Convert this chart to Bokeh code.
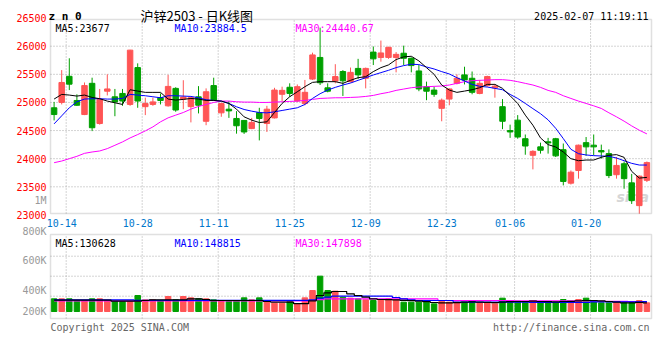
from bokeh.plotting import figure
from bokeh.models import Range1d, Label, ColumnDataSource, BoxAnnotation
from bokeh.core.properties import value
from bokeh.embed import file_html
from bokeh.resources import INLINE

# ---------------- data ----------------
dates = ["10-11",
         "10-14", "10-15", "10-16", "10-17", "10-18",
         "10-21", "10-22", "10-23", "10-24", "10-25",
         "10-28", "10-29", "10-30", "10-31", "11-01",
         "11-04", "11-05", "11-06", "11-07", "11-08",
         "11-11", "11-12", "11-13", "11-14", "11-15",
         "11-18", "11-19", "11-20", "11-21", "11-22",
         "11-25", "11-26", "11-27", "11-28", "11-29",
         "12-02", "12-03", "12-04", "12-05", "12-06",
         "12-09", "12-10", "12-11", "12-12", "12-13",
         "12-16", "12-17", "12-18", "12-19", "12-20",
         "12-23", "12-24", "12-25", "12-26", "12-27",
         "12-30", "12-31", "01-02", "01-03",
         "01-06", "01-07", "01-08", "01-09", "01-10",
         "01-13", "01-14", "01-15", "01-16", "01-17",
         "01-20", "01-21", "01-22", "01-23", "01-24",
         "01-27", "02-05", "02-06", "02-07"]

tick_labels = ["10-14", "10-28", "11-11", "11-25", "12-09", "12-23", "01-06", "01-20"]
price_ticks = [23000, 23500, 24000, 24500, 25000, 25500, 26000, 26500]
price_grid = [23500, 24000, 24500, 25000, 25500, 26000]

open_ = [24905, 25000, 25465, 25035, 24785, 25340, 24625, 25200, 25100, 25160,
         24965, 25620, 24925, 24965, 25085, 24940, 25250, 25060, 24925, 25100,
         24665, 25300, 24815, 24880, 24715, 24680, 24535, 24820, 24625, 24725,
         25145, 25270, 25025, 24980, 25415, 25800, 25260, 25380, 25550, 25370,
         25605, 25430, 25895, 25800, 25800, 25800, 25875, 25785, 25560, 25280,
         25220, 24895, 25060, 25340, 25490, 25430, 25160, 25300, 25260, 24925,
         24500, 24685, 24355, 24060, 24210, 24300, 24355, 24160, 23565, 23790,
         24285, 24240, 24145, 24090, 23715, 23910, 23570, 23165, 23615]
high = [25010, 25575, 25785, 25145, 25355, 25440, 25240, 25500, 25240, 25240,
        25935, 25695, 25085, 25085, 25160, 25490, 25270, 25395, 25095, 25290,
        25250, 25440, 24995, 25025, 24845, 24685, 24725, 24905, 24940, 25260,
        25280, 25340, 25320, 25400, 25885, 26330, 25340, 25680, 25575, 25620,
        25775, 25620, 25995, 26100, 25990, 25895, 26010, 25800, 25665, 25370,
        25280, 25070, 25250, 25500, 25635, 25550, 25400, 25475, 25320, 25060,
        24605, 24775, 24430, 24150, 24285, 24370, 24370, 24270, 23790, 24250,
        24385, 24430, 24250, 24165, 24030, 23950, 23730, 23700, 23950]
low = [24680, 24965, 25220, 24940, 24775, 24490, 24605, 25125, 24755, 24940,
       24940, 24905, 24775, 24940, 24965, 24925, 24835, 24880, 24645, 24805,
       24595, 25025, 24745, 24725, 24445, 24440, 24525, 24325, 24475, 24715,
       25025, 25100, 25010, 24950, 25400, 25310, 25180, 25340, 25115, 25355,
       25415, 25250, 25665, 25725, 25775, 25535, 25665, 25535, 25200, 25040,
       25100, 24665, 24950, 25320, 25320, 25145, 25145, 25280, 25085, 24525,
       24370, 24355, 24070, 23810, 24090, 24090, 24030, 23525, 23540, 23645,
       24050, 24060, 24000, 23655, 23645, 23465, 23195, 23020, 23585]
close = [24785, 25355, 25325, 24950, 25300, 24550, 25055, 25240, 25010, 25025,
         25930, 25025, 24980, 25010, 25035, 25285, 24865, 25095, 25085, 24950,
         25190, 25040, 24980, 24850, 24585, 24475, 24645, 24715, 24880, 25220,
         25215, 25160, 25280, 25180, 25845, 25350, 25200, 25460, 25385, 25535,
         25490, 25605, 25775, 25880, 25980, 25855, 25785, 25655, 25240, 25200,
         25145, 25040, 25240, 25430, 25400, 25180, 25340, 25460, 25290, 24665,
         24475, 24385, 24225, 24130, 24150, 24280, 24050, 23595, 23760, 24240,
         24210, 24210, 24120, 23700, 23880, 23645, 23255, 23690, 23930]

ma5 = [25060, 25143, 25131, 25113, 25131, 25089, 25066, 25024, 24994, 24964,
       25226, 25202, 25179, 25179, 25179, 25060, 25042, 25054, 25071, 25060,
       25036, 25036, 25024, 24982, 24881, 24744, 24685, 24643, 24655, 24821,
       24982, 25101, 25190, 25280, 25357, 25369, 25369, 25369, 25339, 25393,
       25440, 25458, 25548, 25619, 25667, 25762, 25810, 25821, 25738, 25619,
       25500, 25310, 25220, 25179, 25202, 25226, 25262, 25321, 25321, 25250,
       25119, 24982, 24774, 24595, 24369, 24250, 24208, 24119, 24000, 23964,
       23976, 23976, 24024, 24060, 24072, 24024, 23774, 23655, 23667]
ma10 = [24619, 24762, 24905, 25012, 25060, 25066, 25066, 25060, 25060, 25071,
        25143, 25131, 25119, 25101, 25083, 25119, 25119, 25113, 25107, 25083,
        25048, 25036, 25024, 24982, 24923, 24875, 24845, 24821, 24815, 24833,
        24857, 24881, 24905, 24964, 25071, 25155, 25220, 25268, 25310, 25345,
        25393, 25440, 25488, 25530, 25571, 25619, 25655, 25679, 25673, 25631,
        25595, 25548, 25506, 25440, 25381, 25321, 25286, 25274, 25250, 25226,
        25143, 25071, 24982, 24890, 24800, 24690, 24540, 24357, 24167, 24089,
        24066, 24054, 24048, 24042, 24012, 23964, 23917, 23887, 23887]
ma30 = [23929, 23958, 24000, 24042, 24095, 24119, 24137, 24179, 24238, 24298,
        24369, 24429, 24494, 24565, 24655, 24726, 24774, 24821, 24881, 24929,
        24964, 25000, 25024, 25024, 25012, 25006, 25006, 25000, 25000, 25006,
        25012, 25018, 25024, 25036, 25054, 25071, 25077, 25083, 25083, 25089,
        25095, 25107, 25125, 25155, 25179, 25214, 25238, 25262, 25274, 25280,
        25286, 25292, 25310, 25339, 25369, 25387, 25393, 25399, 25405, 25405,
        25393, 25369, 25339, 25310, 25268, 25214, 25179, 25119, 25071, 25024,
        24982, 24940, 24893, 24816, 24744, 24667, 24583, 24506, 24441]

volume = [190000, 190000, 190000, 165000, 165000, 190000, 190000, 165000, 155000, 150000,
          155000, 240000, 175000, 175000, 165000, 225000, 175000, 225000, 205000, 190000,
          190000, 175000, 165000, 165000, 165000, 205000, 175000, 205000, 155000, 125000,
          125000, 150000, 115000, 205000, 315000, 530000, 315000, 305000, 215000, 200000,
          190000, 175000, 165000, 180000, 190000, 175000, 140000, 140000, 140000, 140000,
          115000, 155000, 140000, 140000, 140000, 155000, 130000, 130000, 115000, 200000,
          155000, 155000, 140000, 165000, 140000, 140000, 140000, 180000, 155000, 180000,
          200000, 155000, 130000, 130000, 130000, 130000, 130000, 165000, 130000]
vol_ma5 = [170000, 170000, 170000, 170000, 170000, 170000, 170000, 170000, 155000, 155000,
           155000, 155000, 165000, 175000, 175000, 175000, 175000, 175000, 190000, 190000,
           180000, 165000, 165000, 165000, 165000, 165000, 165000, 165000, 150000, 140000,
           140000, 140000, 118000, 118000, 160000, 240000, 280000, 300000, 300000, 265000,
           240000, 215000, 190000, 180000, 178000, 175000, 168000, 163000, 155000, 148000,
           135000, 130000, 128000, 132000, 140000, 143000, 140000, 138000, 132000, 140000,
           148000, 150000, 150000, 155000, 150000, 148000, 145000, 150000, 152000, 158000,
           165000, 165000, 160000, 150000, 140000, 130000, 130000, 137000, 130628]
vol_ma10 = [175000, 175000, 175000, 175000, 175000, 175000, 175000, 175000, 175000, 175000,
            175000, 168000, 168000, 168000, 168000, 168000, 168000, 168000, 168000, 168000,
            168000, 168000, 168000, 168000, 168000, 168000, 168000, 168000, 168000, 168000,
            168000, 168000, 168000, 168000, 175000, 200000, 215000, 230000, 230000, 230000,
            230000, 230000, 230000, 230000, 230000, 210000, 190000, 175000, 165000, 165000,
            165000, 165000, 165000, 140000, 140000, 140000, 140000, 140000, 140000, 140000,
            140000, 140000, 140000, 135000, 135000, 135000, 135000, 135000, 135000, 135000,
            135000, 145000, 145000, 145000, 145000, 145000, 145000, 145000, 148815]
vol_ma30 = [160000, 160000, 160000, 160000, 160000, 160000, 160000, 160000, 160000, 160000,
            160000, 160000, 160000, 160000, 160000, 160000, 160000, 160000, 160000, 160000,
            160000, 160000, 160000, 160000, 160000, 160000, 160000, 160000, 160000, 160000,
            160000, 160000, 160000, 160000, 165000, 178000, 188000, 188000, 188000, 188000,
            188000, 188000, 188000, 188000, 188000, 188000, 188000, 188000, 188000, 188000,
            188000, 165000, 165000, 165000, 165000, 165000, 165000, 165000, 165000, 165000,
            165000, 158000, 158000, 158000, 158000, 158000, 158000, 158000, 158000, 158000,
            158000, 155000, 154000, 153000, 152000, 151000, 150000, 149000, 147898]

legend_main = ["MA5:23677", "MA10:23884.5", "MA30:24440.67"]
legend_vol = ["MA5:130628", "MA10:148815", "MA30:147898"]
vol_axis_text = ["1M", "800K", "600K", "400K", "200K"]

# ---------------- geometry (pixels of the 660x360 canvas) ----------------
W, H = 660, 360
X_PX0, X_STEP = 53.6, 7.6            # centre of first candle, px per trading day
P_REF, P_PX, P_SCALE = 26000, 45.7, 28.12 / 500   # price -> px
V_BASE_PX, V_PER_PX = 311, 15000      # volume baseline px, volume per px
MAIN = (50, 651, 19, 213)             # left, right, top, bottom of price panel
VOLP = (50, 651, 234, 318)            # volume panel


def px2x(px):
    return (px - X_PX0) / X_STEP


def py2y(py):
    return P_REF - (py - P_PX) / P_SCALE


def py2v(py):
    return (V_BASE_PX - py) * V_PER_PX


UP, DOWN = "#ff5555", "#00a000"
C_MA5, C_MA10, C_MA30 = "#000000", "#0000ff", "#ff00ff"
MONO = "DejaVu Sans Mono"
GRID = "#a8a8a8"
BORDER = "#999999"

n = len(dates)
xs = list(range(n))
colors = [UP if c >= o else DOWN for o, c in zip(open_, close)]
src = ColumnDataSource(dict(
    x=xs, high=high, low=low,
    top=[max(o, c) for o, c in zip(open_, close)],
    bottom=[min(o, c) for o, c in zip(open_, close)],
    color=colors, vol=volume))

p = figure(width=W, height=H,
           x_range=Range1d(px2x(0), px2x(W)), y_range=Range1d(py2y(H), py2y(0)),
           x_axis_location=None, y_axis_location=None,
           output_backend="svg", toolbar_location=None, title=None,
           min_border_left=0, min_border_right=0, min_border_top=0, min_border_bottom=0,
           background_fill_color="white", border_fill_color="white")
p.extra_y_ranges = {"vol": Range1d(py2v(H), py2v(0))}
p.outline_line_color = None
p.xgrid.visible = False
p.ygrid.visible = False

tick_idx = [dates.index(t) for t in tick_labels]
grid_x = [i + 0.59 for i in tick_idx]

# ---- dotted grid lines (drawn per panel) ----
gkw = dict(line_color=GRID, line_dash="1 2", line_width=1, level="underlay")
k = len(grid_x)
p.segment(x0=grid_x, y0=[py2y(MAIN[3])] * k, x1=grid_x, y1=[py2y(MAIN[2])] * k, **gkw)
p.segment(x0=grid_x, y0=[py2y(VOLP[3])] * k, x1=grid_x, y1=[py2y(VOLP[2])] * k, **gkw)
m = len(price_grid)
p.segment(x0=[px2x(MAIN[0])] * m, y0=price_grid, x1=[px2x(MAIN[1])] * m, y1=price_grid, **gkw)
vol_grid = [py2v(255.7), py2v(275.7), py2v(295.7)]
p.segment(x0=[px2x(VOLP[0])] * 3, y0=vol_grid, x1=[px2x(VOLP[1])] * 3, y1=vol_grid,
          y_range_name="vol", **gkw)

# watermark (kept inside the price panel)
p.add_layout(Label(x=px2x(616), y=py2y(204), text="sina", text_color="#d6d6d6",
                   text_font="DejaVu Sans", text_font_size="14px",
                   text_font_style="bold italic", level="underlay"))

# ---- candles ----
p.segment(x0="x", y0="high", x1="x", y1="low", line_color="color", line_width=1, source=src)
p.vbar(x="x", width=0.72, top="top", bottom="bottom", fill_color="color",
       line_color="color", line_width=1, source=src)
p.line(xs, ma30, line_color=C_MA30, line_width=1)
p.line(xs, ma10, line_color=C_MA10, line_width=1)
p.line(xs, ma5, line_color=C_MA5, line_width=1)

# ---- volume ----
p.vbar(x="x", width=0.72, top="vol", bottom=0, fill_color="color", line_color="color",
       line_width=1, source=src, y_range_name="vol")
p.step(xs, vol_ma30, mode="center", line_color=C_MA30, line_width=1.2, y_range_name="vol")
p.step(xs, vol_ma10, mode="center", line_color=C_MA10, line_width=1.2, y_range_name="vol")
p.step(xs, vol_ma5, mode="center", line_color=C_MA5, line_width=1.2, y_range_name="vol")

# ---- panel borders ----
for (l, r, t, b) in (MAIN, VOLP):
    p.add_layout(BoxAnnotation(left=px2x(l), right=px2x(r), top=py2y(t), bottom=py2y(b),
                               fill_color=None, fill_alpha=0, line_color=BORDER,
                               line_width=1.5))

# ---- axis tick labels ----
p.text(x=[px2x(46)] * len(price_ticks), y=price_ticks, text=[str(t) for t in price_ticks],
       text_color="#ff0000", text_font=value(MONO), text_font_size="10px",
       text_align="right", text_baseline="middle")
p.text(x=tick_idx, y=[py2y(222)] * len(tick_idx), text=tick_labels,
       text_color="#0077cc", text_font=value(MONO), text_font_size="10px",
       text_align="center", text_baseline="middle")
vol_label_y = [py2v(200), py2v(231), py2v(260), py2v(290), py2v(311)]
p.text(x=[px2x(46)] * len(vol_axis_text), y=vol_label_y, text=vol_axis_text,
       text_color="#999999", text_font=value(MONO), text_font_size="10px",
       text_align="right", text_baseline="middle", y_range_name="vol")


def lab(x, y, text, color="#000000", size="10px", align="left", font=MONO, style="normal"):
    p.add_layout(Label(x=x, y=y, text=text, text_color=color, text_font=font,
                       text_font_size=size, text_align=align, text_baseline="alphabetic",
                       text_font_style=style))


# header
lab(px2x(48), py2y(16), "z n 0", size="11px", style="bold")
lab(px2x(140), py2y(15), "沪锌2503 - 日K线图", size="13px", font="Noto Sans CJK SC")
lab(px2x(648), py2y(16), "2025-02-07 11:19:11", align="right")
for txt, xpx, col in zip(legend_main, (55, 174, 295), (C_MA5, C_MA10, C_MA30)):
    lab(px2x(xpx), py2y(27.5), txt, color=col)
for txt, xpx, col in zip(legend_vol, (55, 174, 295), (C_MA5, C_MA10, C_MA30)):
    lab(px2x(xpx), py2y(242.5), txt, color=col)
# footer
lab(px2x(50), py2y(327), "Copyright 2025 SINA.COM", color="#666666")
lab(px2x(649), py2y(327), "http://finance.sina.com.cn", color="#666666", align="right")

open("out.html", "w").write(file_html(p, INLINE))
